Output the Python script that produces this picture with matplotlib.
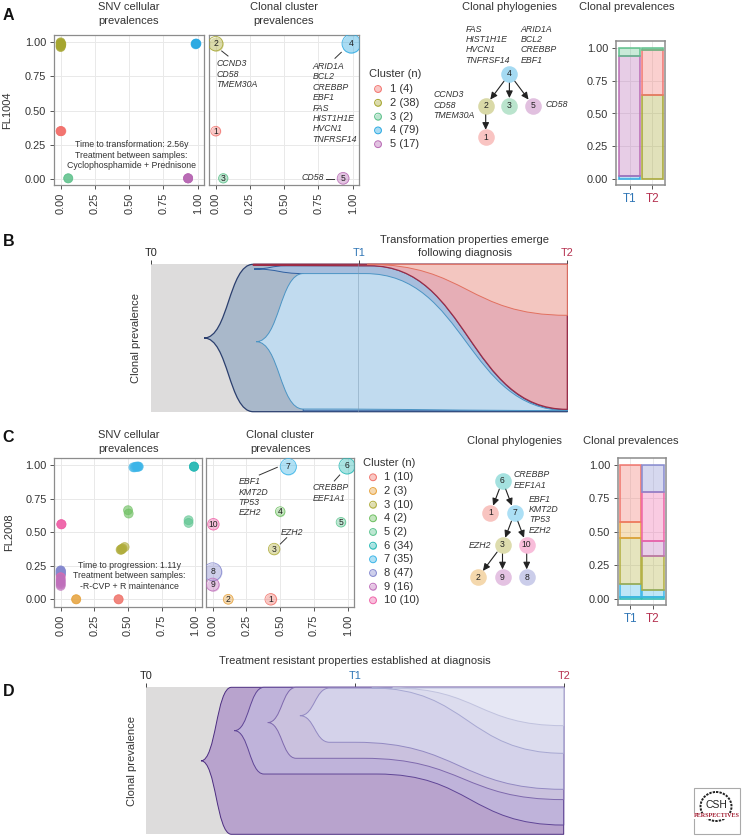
import matplotlib
matplotlib.use("Agg")
import matplotlib.pyplot as plt
from matplotlib.path import Path
from matplotlib.patches import PathPatch, Rectangle, Ellipse

plt.rcParams['font.family'] = ['Liberation Sans', 'DejaVu Sans']

W, H = 742, 836
TICKS = [0, 0.25, 0.5, 0.75, 1.0]
TICK_LABELS = ['0.00', '0.25', '0.50', '0.75', '1.00']
TIME_LABELS = ['T0', 'T1', 'T2']
TIME_POS = [0, 0.5, 1]
BAR_LABELS = ['T1', 'T2']

# ---------- colours per cluster ----------
colors_A = {1: '#f2736e', 2: '#a5a52f', 3: '#5cc08a', 4: '#2aa9e2', 5: '#b869b4'}
colors_C = {1: '#f0736a', 2: '#e6a23c', 3: '#b0ad3c', 4: '#6cbf5f', 5: '#5cc48f',
            6: '#26b9b5', 7: '#3bb5e8', 8: '#8589cf', 9: '#bf6fbb', 10: '#ef62a8'}

# ---------- panel A data ----------
legend_A = ['1 (4)', '2 (38)', '3 (2)', '4 (79)', '5 (17)']
cluster_n_A = {1: 4, 2: 38, 3: 2, 4: 79, 5: 17}
snv_A_cluster = [1, 1, 1, 1, 2, 2, 2, 2, 2, 2, 2, 2, 3, 3, 4, 4, 4, 4, 5, 5, 5, 5]
snv_A_x = [0.0, 0.0, 0.005, 0.0, 0.0, 0.0, 0.0, 0.005, 0.0, 0.0, 0.0, 0.0,
           0.055, 0.055, 0.985, 0.99, 0.985, 0.99, 0.93, 0.93, 0.93, 0.93]
snv_A_y = [0.35, 0.35, 0.35, 0.35, 1.0, 0.995, 0.99, 0.985, 0.98, 0.975, 0.97, 0.965,
           0.005, 0.005, 0.99, 0.99, 0.985, 0.99, 0.005, 0.005, 0.005, 0.005]
clonal_A_id = [1, 2, 3, 4, 5]
clonal_A_x = [0.0, 0.0, 0.055, 0.99, 0.93]
clonal_A_y = [0.35, 0.99, 0.005, 0.99, 0.005]
tree_A_id = [4, 2, 3, 5, 1]
tree_A_col = [1, 0, 1, 2, 0]
tree_A_row = [0, 1, 1, 1, 2]
tree_A_edges = [(4, 2), (4, 3), (4, 5), (2, 1)]
bars_A_T1 = [(4, 0.02), (5, 0.92), (3, 0.06)]
bars_A_T2 = [(2, 0.64), (1, 0.345), (3, 0.015)]

# ---------- panel C data ----------
legend_C = ['1 (10)', '2 (3)', '3 (10)', '4 (2)', '5 (2)', '6 (34)', '7 (35)', '8 (47)', '9 (16)', '10 (10)']
cluster_n_C = {1: 10, 2: 3, 3: 10, 4: 2, 5: 2, 6: 34, 7: 35, 8: 47, 9: 16, 10: 10}
snv_C_cluster = [1, 1, 2, 2, 3, 3, 3, 3, 3, 4, 4, 5, 5, 6, 6, 6, 7, 7, 7, 7, 7, 7,
                 8, 8, 8, 8, 8, 8, 8, 8, 8, 10, 9, 9, 9, 9, 9, 9, 10, 10, 10]
snv_C_x = [0.43, 0.43, 0.115, 0.115, 0.445, 0.45, 0.455, 0.46, 0.475, 0.50, 0.505, 0.95, 0.95,
           0.99, 0.99, 0.99, 0.54, 0.55, 0.56, 0.57, 0.575, 0.58,
           0.0, 0.0, 0.0, 0.0, 0.0, 0.0, 0.0, 0.0, 0.0, 0.0, 0.0, 0.0, 0.0, 0.0, 0.0, 0.0, 0.005, 0.005, 0.005]
snv_C_y = [0.0, 0.0, 0.0, 0.0, 0.37, 0.37, 0.375, 0.38, 0.39, 0.665, 0.64, 0.59, 0.57,
           0.99, 0.99, 0.99, 0.985, 0.985, 0.99, 0.99, 0.99, 0.99,
           0.215, 0.215, 0.21, 0.205, 0.20, 0.195, 0.19, 0.185, 0.18, 0.165, 0.15, 0.14, 0.13, 0.12, 0.11, 0.10, 0.56, 0.56, 0.56]
clonal_C_id = [1, 2, 3, 4, 5, 6, 7, 8, 9, 10]
clonal_C_x = [0.43, 0.115, 0.455, 0.50, 0.95, 0.995, 0.56, 0.0, 0.0, 0.005]
clonal_C_y = [0.0, 0.0, 0.375, 0.655, 0.575, 0.995, 0.99, 0.205, 0.11, 0.56]
tree_C_id = [6, 1, 7, 3, 10, 2, 9, 8]
tree_C_col = [2, 1, 3, 2, 4, 0, 2, 4]
tree_C_row = [0, 1, 1, 2, 2, 3, 3, 3]
tree_C_edges = [(6, 1), (6, 7), (7, 3), (7, 10), (3, 2), (3, 9), (10, 8)]
bars_C_T1 = [(6, 0.012), (7, 0.098), (3, 0.345), (2, 0.115), (1, 0.43)]
bars_C_T2 = [(6, 0.012), (7, 0.053), (3, 0.255), (9, 0.115), (10, 0.36), (8, 0.205)]

# ---------- fish plots: (time, prevalence) knots of each clone's outline ----------
fishB_navy_up = [(.128, .5), (.246, 1), (1, 1)]
fishB_navy_lo = [(.128, .5), (.246, 0), (1, 0)]
fishB_mid_up = [(.248, .968), (.326, .99), (.526, .99), (1, .012)]
fishB_mid_lo = [(.248, .968), (.366, .937), (.366, .006), (1, .006)]
fishB_light_up = [(.253, .475), (.366, .937), (.515, .937), (1, .008)]
fishB_light_lo = [(.253, .475), (.366, .018), (1, .008)]
fishB_red_up = [(.246, 1), (1, 1)]
fishB_red_lo = [(.246, .993), (.526, .99), (1, .016)]
fishB_salmon_up = [(.52, 1), (1, 1)]
fishB_salmon_lo = [(.52, 1), (1, .654)]

fishD_1_up = [(.131, .5), (.204, 1), (1, 1)]
fishD_1_lo = [(.131, .5), (.204, 0), (1, 0)]
fishD_2_up = [(.211, .705), (.282, 1), (1, 1)]
fishD_2_lo = [(.211, .705), (.282, .41), (.552, .41), (1, .063)]
fishD_3_up = [(.291, .76), (.359, 1), (1, 1)]
fishD_3_lo = [(.291, .76), (.359, .517), (.52, .517), (1, .236)]
fishD_4_up = [(.368, .807), (.439, .995), (1, .995)]
fishD_4_lo = [(.368, .807), (.439, .626), (.50, .626), (1, .306)]
fishD_5_up = [(.54, .995), (1, .995)]
fishD_5_lo = [(.54, .995), (1, .551)]
fishD_6_up = [(.59, .995), (1, .995)]
fishD_6_lo = [(.59, .995), (1, .739)]

# ---------- text ----------
genes_A2 = ['CCND3', 'CD58', 'TMEM30A']
genes_A4 = ['ARID1A', 'BCL2', 'CREBBP', 'EBF1', 'FAS', 'HIST1H1E', 'HVCN1', 'TNFRSF14']
genes_A4a = ['FAS', 'HIST1H1E', 'HVCN1', 'TNFRSF14']
genes_A4b = ['ARID1A', 'BCL2', 'CREBBP', 'EBF1']
note_A = ['Time to transformation: 2.56y', 'Treatment between samples:', 'Cyclophosphamide + Prednisone']
note_C = ['Time to progression: 1.11y', 'Treatment between samples:', '-R-CVP + R maintenance']
genes_C7 = ['EBF1', 'KMT2D', 'TP53', 'EZH2']
genes_C6 = ['CREBBP', 'EEF1A1']

# ---------- helpers ----------
fig = plt.figure(figsize=(W / 100, H / 100), dpi=100, facecolor='white')
FRAME = '#8c8c8c'
TXT = '#333333'


def px_axes(x0, y0, x1, y1, zorder=1):
    return fig.add_axes([x0 / W, 1 - y1 / H, (x1 - x0) / W, (y1 - y0) / H], zorder=zorder)


def lims(p0, p1, v0_px, v1_px):
    """limits for pixel span p0..p1 when value 0 sits at v0_px and 1 at v1_px"""
    k = v1_px - v0_px
    return (p0 - v0_px) / k, (p1 - v0_px) / k


def style_axes(ax, frame_lw=0.9):
    ax.set_axisbelow(True)
    ax.grid(True, color='#e9e9e9', lw=0.7)
    for s in ax.spines.values():
        s.set_color(FRAME)
        s.set_linewidth(frame_lw)
    ax.tick_params(length=3, width=0.7, color='#555555', labelcolor=TXT, labelsize=7.9, pad=2.5)


def scatter_axes(rect, xz, yz, ylabels):
    ax = px_axes(*rect)
    ax.set_xlim(*lims(rect[0], rect[2], *xz))
    ax.set_ylim(*lims(rect[3], rect[1], *yz))
    style_axes(ax)
    ax.set_xticks(TICKS, TICK_LABELS, rotation=90)
    if ylabels:
        ax.set_yticks(TICKS, TICK_LABELS)
    else:
        ax.set_yticks(TICKS, [])
        ax.tick_params(axis='y', length=0)
    return ax


def draw_snv(ax, xs, ys, ids, colors):
    ax.scatter(xs, ys, s=42, c=[colors[i] for i in ids], alpha=0.62,
               edgecolors=[colors[i] for i in ids], linewidths=0.6, zorder=3)


def draw_clonal(ax, ids, xs, ys, ns, colors, k):
    for i, x, y in zip(ids, xs, ys):
        s = 2.07 * (20 + k * ns[i])
        ax.scatter([x], [y], s=s, facecolor=colors[i], alpha=0.4, linewidths=0, zorder=3)
        ax.scatter([x], [y], s=s, facecolor='none', edgecolor=colors[i], alpha=0.9, linewidths=0.6, zorder=3)
        ax.text(x, y, str(i), fontsize=6.2, color='#222222', ha='center', va='center', zorder=4)


def draw_bars(rect, z0_y, one_y, t1_x, t2_x, t1, t2, colors):
    ax = px_axes(*rect)
    sp = t2_x - t1_x
    ax.set_xlim((rect[0] - t1_x) / sp, (rect[2] - t1_x) / sp)
    ax.set_ylim(*lims(rect[3], rect[1], z0_y, one_y))
    style_axes(ax, 1.1)
    for pos, stack in enumerate([t1, t2]):
        bottom = 0
        for cid, h in stack:
            ax.bar(pos, h, bottom=bottom, width=0.93, color=colors[cid], alpha=0.33, lw=0, zorder=2)
            ax.bar(pos, h, bottom=bottom, width=0.93, facecolor='none', edgecolor=colors[cid],
                   lw=1.2, alpha=0.9, zorder=3)
            bottom += h
    ax.set_xticks([0, 1], BAR_LABELS)
    ax.set_yticks(TICKS, TICK_LABELS)
    labs = ax.get_xticklabels()
    labs[0].set_color('#2f75b5')
    labs[1].set_color('#b5304f')
    for lab in labs:
        lab.set_fontsize(8.4)
    return ax


def draw_tree(ids, cols, rows, edges, colors, col0_x, row0_y, dx, dy):
    x0, x1 = col0_x - 15, col0_x + dx * max(cols) + 15
    y0, y1 = row0_y - 15, row0_y + dy * max(rows) + 15
    ax = px_axes(x0, y0, x1, y1, zorder=2)
    ax.set_xlim((x0 - col0_x) / dx, (x1 - col0_x) / dx)
    ax.set_ylim((y1 - row0_y) / dy, (y0 - row0_y) / dy)
    ax.axis('off')
    pos = {i: (c, r) for i, c, r in zip(ids, cols, rows)}
    for a, b in edges:
        ax.annotate('', xy=pos[b], xytext=pos[a],
                    arrowprops=dict(arrowstyle='-|>,head_length=0.42,head_width=0.2', color='#222222',
                                    lw=0.8, shrinkA=6.5, shrinkB=5.5), zorder=1)
    for i, c, r in zip(ids, cols, rows):
        ax.scatter([c], [r], s=143, color=colors[i], alpha=0.42, linewidths=0, zorder=3)
        ax.text(c, r, str(i), fontsize=6.2, color='#222222', ha='center', va='center', zorder=4)


def s_path(knots):
    """verts and codes following knots; changes in height are horizontal-tangent S curves"""
    v, c = [], []
    for (t0, y0), (t1, y1) in zip(knots[:-1], knots[1:]):
        if t0 == t1 or y0 == y1:
            v.append((t1, y1))
            c.append(Path.LINETO)
        else:
            d = (t1 - t0) * 0.5
            v += [(t0 + d, y0), (t1 - d, y1), (t1, y1)]
            c += [Path.CURVE4] * 3
    return v, c


def clone(ax, up, lo, fill, edge, lw=0.7, z=2):
    v = [up[0]]
    c = [Path.MOVETO]
    vv, cc = s_path(up)
    v += vv
    c += cc
    v.append(lo[-1])
    c.append(Path.LINETO)
    vv, cc = s_path(lo[::-1])
    v += vv
    c += cc
    v.append(up[0])
    c.append(Path.LINETO)
    ax.add_patch(PathPatch(Path(v, c), facecolor=fill, edgecolor=edge, lw=lw, zorder=z, clip_on=False,
                           joinstyle='round'))


def fish_axes(rect):
    ax = px_axes(*rect)
    ax.set_xlim(0, 1)
    ax.set_ylim(0, 1)
    ax.set_facecolor('#dddcdc')
    for s in ax.spines.values():
        s.set_visible(False)
    ax.set_yticks([])
    ax.set_xticks(TIME_POS, TIME_LABELS)
    ax.xaxis.tick_top()
    ax.tick_params(axis='x', length=3, width=0.7, color='#444444', labelsize=7.8, pad=1.5, labelcolor='#222222')
    labs = ax.get_xticklabels()
    labs[1].set_color('#2f75b5')
    labs[2].set_color('#b5304f')
    return ax


# ---------- panel A ----------
a1 = scatter_axes((53.7, 35.3, 204.3, 185), (60.7, 197.7), (179, 42.3), True)
draw_snv(a1, snv_A_x, snv_A_y, snv_A_cluster, colors_A)
a2 = scatter_axes((208.7, 35.3, 359.3, 185), (215.7, 352.7), (179, 42.3), False)
draw_clonal(a2, clonal_A_id, clonal_A_x, clonal_A_y, cluster_n_A, colors_A, 0.85)
draw_tree(tree_A_id, tree_A_col, tree_A_row, tree_A_edges, colors_A, 485.7, 74, 23.7, 31.7)
draw_bars((615.7, 40.7, 665, 185.3), 179, 48, 629.7, 652.3, bars_A_T1, bars_A_T2, colors_A)

# ---------- panel B ----------
b = fish_axes((150.7, 264.3, 567.3, 411.7))
clone(b, fishB_navy_up, fishB_navy_lo, '#a9b8ca', '#2b3f6e', lw=0.9, z=2)
clone(b, fishB_mid_up, fishB_mid_lo, '#a7bedd', '#2f5fa0', z=3)
clone(b, fishB_light_up, fishB_light_lo, '#c1dbef', '#4b94c4', z=4)
clone(b, fishB_red_up, fishB_red_lo, '#e6aeb6', '#9c2b45', lw=0.9, z=5)
clone(b, fishB_salmon_up, fishB_salmon_lo, '#f3c6c0', '#e2705f', z=6)
b.axvline(0.498, color='#7f9db5', lw=0.6, alpha=0.6, zorder=7)

# ---------- panel C ----------
c1 = scatter_axes((54.3, 458.3, 202.3, 606.7), (60.7, 195.3), (599.3, 465.3), True)
draw_snv(c1, snv_C_x, snv_C_y, snv_C_cluster, colors_C)
c2 = scatter_axes((206.3, 458.3, 354.3, 606.7), (212.7, 347.7), (599.3, 465.3), False)
draw_clonal(c2, clonal_C_id, clonal_C_x, clonal_C_y, cluster_n_C, colors_C, 1.3)
draw_tree(tree_C_id, tree_C_col, tree_C_row, tree_C_edges, colors_C, 478.3, 480.7, 12.1, 32.1)
draw_bars((617.7, 458.3, 666.3, 605.3), 598.7, 465, 630.3, 653, bars_C_T1, bars_C_T2, colors_C)

# ---------- panel D ----------
d = fish_axes((146.3, 687.3, 563.7, 834.3))
clone(d, fishD_1_up, fishD_1_lo, '#b8a3cd', '#4b2c80', z=2)
clone(d, fishD_2_up, fishD_2_lo, '#bfb3da', '#5f4596', z=3)
clone(d, fishD_3_up, fishD_3_lo, '#cac1de', '#7e69ad', z=4)
clone(d, fishD_4_up, fishD_4_lo, '#d4d2ea', '#9289c2', z=5)
clone(d, fishD_5_up, fishD_5_lo, '#dcdcee', '#a7a8d2', z=6)
clone(d, fishD_6_up, fishD_6_lo, '#e6e7f4', '#c0c2de', z=7)

# ---------- overlay in figure pixels ----------
ov = fig.add_axes([0, 0, 1, 1], zorder=10)
ov.set_xlim(0, W)
ov.set_ylim(H, 0)
ov.axis('off')
ov.patch.set_alpha(0)


def T(x, y, s, size=8.0, ha='left', color=TXT, **kw):
    ov.text(x, y, s, fontsize=size, ha=ha, va='center', color=color, **kw)


def italic_lines(x, y0, step, lines):
    for i, s in enumerate(lines):
        T(x, y0 + i * step, s, size=6.3, style='italic', color='#333333')


def leader(x0, y0, x1, y1):
    ov.plot([x0, x1], [y0, y1], color='#333333', lw=0.7)


for letter, y in [('A', 15.5), ('B', 242), ('C', 437.7), ('D', 692)]:
    T(2.5, y, letter, size=11.5, weight='bold', color='#111111')

# panel A text
T(129, 6.7, 'SNV cellular', ha='center')
T(129, 20.7, 'prevalences', ha='center')
T(283.7, 6.7, 'Clonal cluster', ha='center')
T(283.7, 20.7, 'prevalences', ha='center')
T(509.3, 7, 'Clonal phylogenies', ha='center')
T(627, 7, 'Clonal prevalences', ha='center')
T(7.3, 110, 'FL1004', ha='center', rotation=90)
for i, s in enumerate(note_A):
    T(131.3, 144.7 + i * 10.5, s, size=6.3, ha='center')
italic_lines(216.7, 63.3, 10.8, genes_A2)
italic_lines(312.7, 66.3, 10.43, genes_A4)
T(324, 177, 'CD58', size=6.3, ha='right', style='italic')
leader(221.7, 51, 228, 56)
leader(335, 58.3, 341.3, 52.3)
leader(326.3, 178.7, 334.3, 178.7)
italic_lines(465.3, 29.3, 10.35, genes_A4a)
italic_lines(520.3, 29.3, 10.35, genes_A4b)
italic_lines(433.3, 94.7, 10.65, genes_A2)
T(545.3, 104.7, 'CD58', size=6.3, style='italic')
T(369, 73.7, 'Cluster (n)')
for i, s in enumerate(legend_A):
    y = 89 + i * 13.8
    ov.scatter([378], [y], s=24, color=colors_A[i + 1], alpha=0.4, linewidths=0)
    ov.scatter([378], [y], s=24, facecolor='none', edgecolor=colors_A[i + 1], linewidths=0.7)
    T(390, y, s)

# panel B text
T(464.7, 240, 'Transformation properties emerge', ha='center')
T(464.7, 253, 'following diagnosis', ha='center')
T(135.7, 338, 'Clonal prevalence', ha='center', rotation=90)

# panel C text
T(128.3, 435.3, 'SNV cellular', ha='center')
T(128.3, 449.3, 'prevalences', ha='center')
T(280.3, 435.3, 'Clonal cluster', ha='center')
T(280.3, 449.3, 'prevalences', ha='center')
T(514.3, 441.3, 'Clonal phylogenies', ha='center')
T(630.3, 441.3, 'Clonal prevalences', ha='center')
T(8.7, 532.3, 'FL2008', ha='center', rotation=90)
for i, s in enumerate(note_C):
    T(129.3, 565.7 + i * 10.3, s, size=6.3, ha='center')
italic_lines(238.3, 481.7, 10.35, genes_C7)
italic_lines(313, 487.7, 10.6, genes_C6)
T(281, 532.3, 'EZH2', size=6.3, style='italic')
leader(259.3, 475, 277.3, 467.3)
leader(334.3, 481, 339.7, 475)
leader(280.3, 544, 286.7, 537.7)
italic_lines(514, 474.7, 10.6, genes_C6)
italic_lines(529, 499, 10.4, genes_C7)
T(469, 545.3, 'EZH2', size=6.3, style='italic')
T(363.3, 462.7, 'Cluster (n)')
for i, s in enumerate(legend_C):
    y = 477.3 + i * 13.67
    ov.scatter([373], [y], s=24, color=colors_C[i + 1], alpha=0.4, linewidths=0)
    ov.scatter([373], [y], s=24, facecolor='none', edgecolor=colors_C[i + 1], linewidths=0.7)
    T(384, y, s)

# panel D text
T(355, 660.7, 'Treatment resistant properties established at diagnosis', ha='center')
T(132.3, 760.7, 'Clonal prevalence', ha='center', rotation=90)

# logo
ov.add_patch(Rectangle((693.5, 787.5), 46.5, 46, facecolor='white', edgecolor='#aaaaaa', lw=0.8))
ov.add_patch(Ellipse((716, 806.5), 31, 29, facecolor='none', edgecolor='#222222', lw=1.4, ls=(0, (1.2, 0.6))))
T(716, 804.5, 'CSH', size=7.5, ha='center', color='#222222')
ov.text(716.5, 815.7, 'PERSPECTIVES', fontsize=4.4, ha='center', va='center', color='#a01c30', weight='bold',
        family='Liberation Serif', bbox=dict(facecolor='white', edgecolor='none', pad=0.4))

fig.savefig('out.png', dpi=100)
